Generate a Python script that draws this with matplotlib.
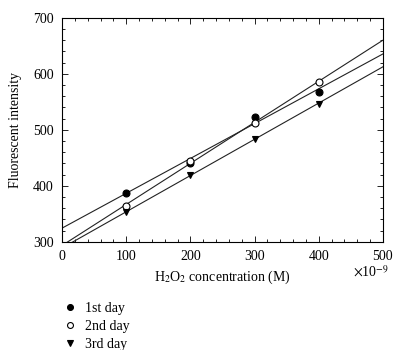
import numpy as np
import matplotlib
matplotlib.use("Agg")
import matplotlib.pyplot as plt
from matplotlib.ticker import MultipleLocator

plt.rcParams['font.family'] = ['Liberation Serif', 'DejaVu Serif']
plt.rcParams['mathtext.fontset'] = 'stix'

# concentration in units of 1e-9 M
conc = [100, 200, 300, 400]
day1 = [388, 441, 523, 568]
day2 = [364, 445, 512, 586]
day3 = [353, 419, 484, 547]
labels = ['1st day', '2nd day', '3rd day']

fig = plt.figure(figsize=(4.03, 3.5), dpi=100)
ax = fig.add_axes([0.154, 0.309, 0.796, 0.640])

xfit = np.array([0, 500])
styles = [
    dict(marker='o', mfc='black', mec='black'),
    dict(marker='o', mfc='white', mec='black'),
    dict(marker='v', mfc='black', mec='black'),
]
handles = []
for ys, st, lab in zip([day1, day2, day3], styles, labels):
    k, b = np.polyfit(conc, ys, 1)
    ax.plot(xfit, k * xfit + b, color='#222222', lw=0.8, zorder=2)
    h, = ax.plot(conc, ys, ls='none', ms=5, mew=0.8, zorder=3, label=lab, **st)
    handles.append(h)

ax.set_xlim(0, 500)
ax.set_ylim(300, 700)
ax.xaxis.set_major_locator(MultipleLocator(100))
ax.xaxis.set_minor_locator(MultipleLocator(20))
ax.yaxis.set_major_locator(MultipleLocator(100))
ax.yaxis.set_minor_locator(MultipleLocator(20))
ax.tick_params(which='both', direction='in', top=True, right=True, labelsize=10, width=0.6)
ax.tick_params(which='major', length=4, pad=6)
ax.tick_params(which='minor', length=2)
for s in ax.spines.values():
    s.set_linewidth(0.8)

ax.set_xlabel('H$_2$O$_2$ concentration (M)', fontsize=10, labelpad=4)
ax.set_ylabel('Fluorescent intensity', fontsize=10, labelpad=8)
ax.text(1.02, -0.1, r'$\times$10$^{-9}$', transform=ax.transAxes, ha='right', va='top', fontsize=10)

fig.legend(handles=handles, loc='upper left', bbox_to_anchor=(0.16, 0.137), frameon=False,
           fontsize=10, handletextpad=0.7, labelspacing=0.35, handlelength=0.8,
           markerscale=0.85, borderaxespad=0, borderpad=0)

fig.savefig('out.png', dpi=100)
